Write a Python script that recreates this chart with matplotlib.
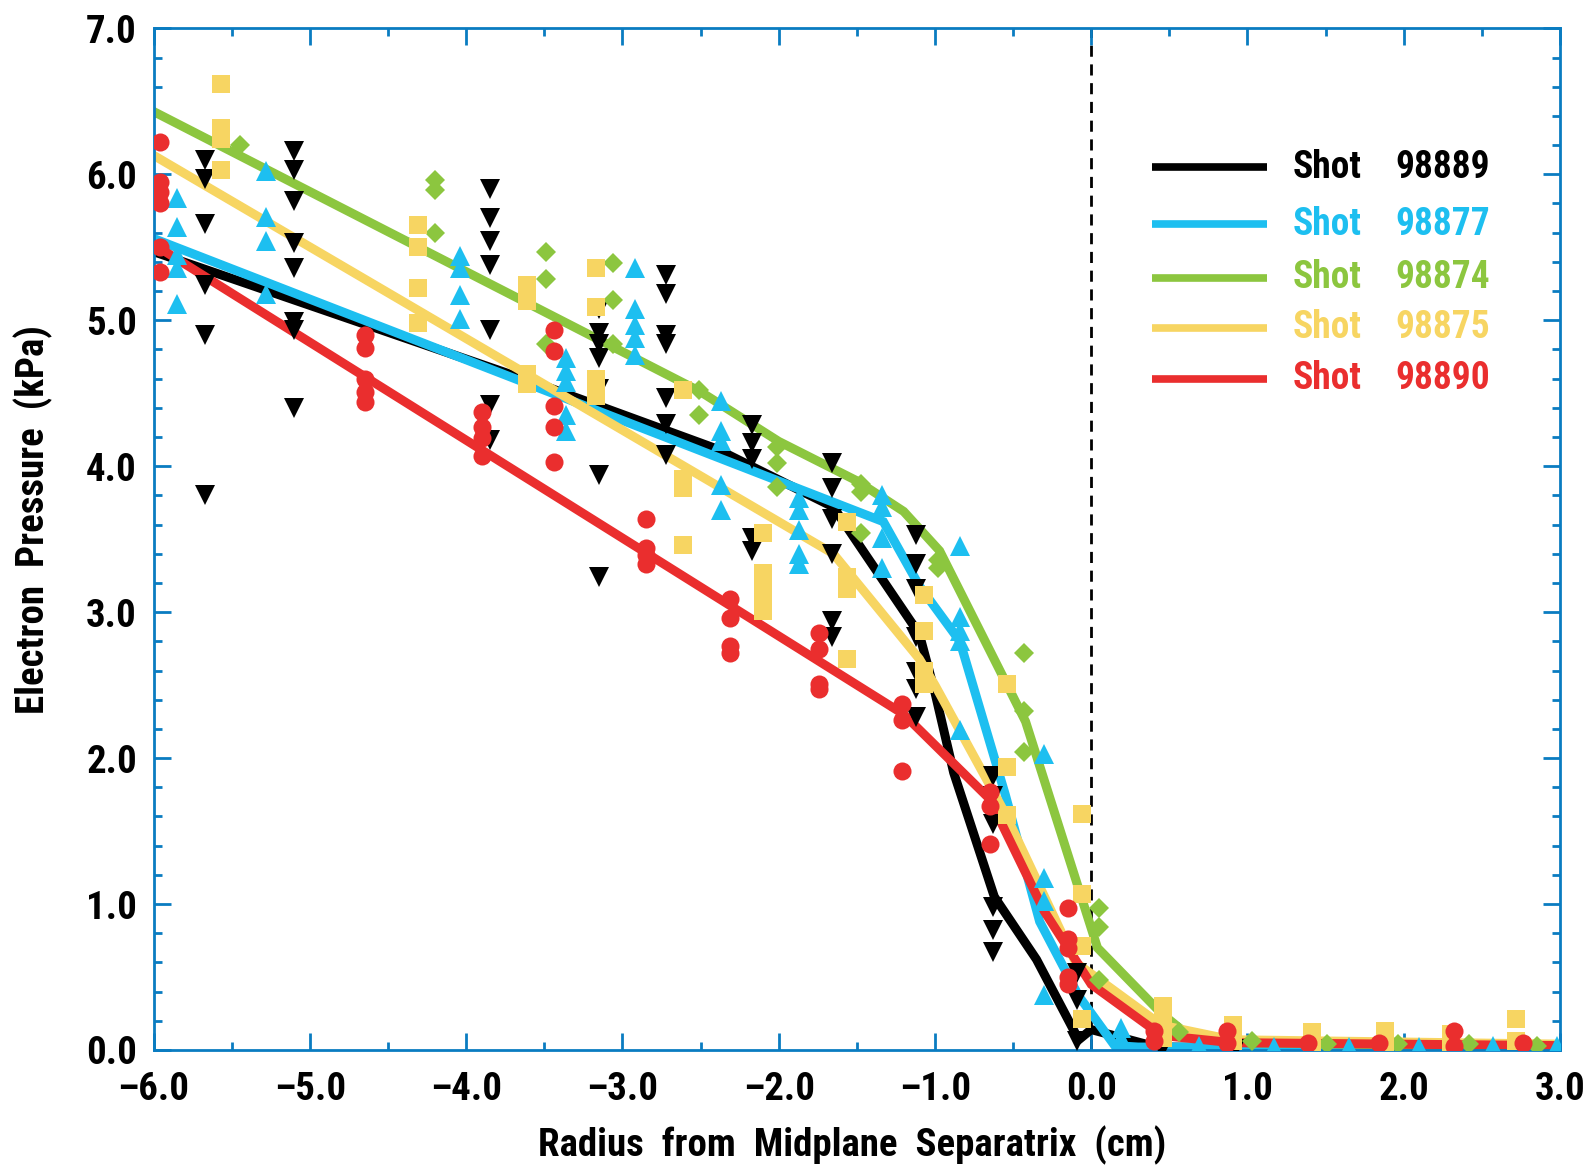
import matplotlib
matplotlib.use("Agg")
import matplotlib.pyplot as plt
from matplotlib import font_manager
from matplotlib.ticker import MultipleLocator, FuncFormatter


def pick_condensed():
    # look for a narrow/condensed sans face; fall back to Liberation Sans
    fonts = font_manager.fontManager.ttflist
    for wanted in ("Liberation Sans Narrow", "Roboto Condensed", "Open Sans Condensed",
                   "Arial Narrow", "Nimbus Sans Narrow"):
        if any(f.name == wanted for f in fonts):
            return wanted, "normal"
    for f in fonts:
        fn = f.fname.lower()
        if "sans" in fn and ("condensed" in fn or "narrow" in fn) and "mono" not in fn:
            return f.name, "condensed"
    return "Liberation Sans", "normal"


FONT, STRETCH = pick_condensed()
plt.rcParams["font.family"] = [FONT, "DejaVu Sans"]
plt.rcParams["font.stretch"] = STRETCH
plt.rcParams["font.weight"] = "bold"
plt.rcParams["lines.scale_dashes"] = False

SHOTS = ["98889", "98877", "98874", "98875", "98890"]
COLORS = ["#000000", "#1DBFF0", "#8CC63F", "#F7D562", "#EA2E2E"]
MARKERS = ["v", "^", "D", "s", "o"]
MSIZES = [15, 15, 10, 13, 13]
AXIS_BLUE = "#0A7CC1"

# fitted profiles (piecewise)
fit_98889_x = [-6.0, -3.5, -2.4, -1.65, -1.1, -1.0, -0.88, -0.62, -0.35, -0.08, 0.0, 0.42, 3.0]
fit_98889_y = [5.47, 4.55, 4.12, 3.72, 2.85, 2.45, 1.90, 1.05, 0.62, 0.07, 0.14, 0.02, 0.01]
fit_98877_x = [-6.0, -1.33, -1.1, -0.84, -0.55, -0.33, -0.08, 0.15, 0.3, 3.0]
fit_98877_y = [5.56, 3.62, 3.18, 2.80, 1.75, 0.88, 0.37, 0.03, 0.02, 0.02]
fit_98874_x = [-6.0, -2.5, -2.0, -1.5, -1.2, -0.97, -0.42, 0.04, 0.45, 0.6, 1.0, 3.0]
fit_98874_y = [6.43, 4.51, 4.17, 3.90, 3.69, 3.42, 2.25, 0.70, 0.25, 0.12, 0.05, 0.02]
fit_98875_x = [-6.0, -1.65, -1.1, -1.0, -0.55, -0.1, 0.45, 0.9, 3.0]
fit_98875_y = [6.13, 3.40, 2.68, 2.50, 1.62, 0.60, 0.17, 0.07, 0.04]
fit_98890_x = [-6.0, -1.2, -0.65, -0.3, 0.0, 0.45, 0.9, 3.0]
fit_98890_y = [5.52, 2.30, 1.72, 0.95, 0.45, 0.10, 0.05, 0.03]

# measured points, grouped by radial position
pts_98889 = {
    -5.67: [6.10, 5.97, 5.66, 5.24, 4.90, 3.80],
    -5.10: [6.16, 6.03, 5.82, 5.53, 5.36, 4.99, 4.93, 4.40],
    -3.85: [5.90, 5.70, 5.54, 5.38, 4.93, 4.42, 4.18],
    -3.15: [5.08, 4.91, 4.84, 4.74, 4.53, 3.94, 3.24],
    -2.72: [5.31, 5.18, 4.90, 4.84, 4.47, 4.29, 4.08],
    -2.17: [4.28, 4.16, 4.05, 3.51, 3.42],
    -1.66: [4.02, 3.85, 3.64, 3.40, 2.94, 2.83],
    -1.12: [3.53, 3.33, 3.16, 2.83, 2.59, 2.47, 2.28],
    -0.63: [1.88, 1.74, 1.55, 0.98, 0.82, 0.67],
    -0.09: [0.53, 0.34, 0.06],
    0.45: [0.01],
    0.92: [0.01],
}
pts_98877 = {
    -5.85: [5.84, 5.64, 5.45, 5.36, 5.11],
    -5.28: [6.02, 5.71, 5.54, 5.18],
    -4.04: [5.44, 5.36, 5.17, 5.01],
    -3.36: [4.74, 4.65, 4.58, 4.35, 4.24],
    -2.92: [5.36, 5.08, 4.97, 4.88, 4.76],
    -2.37: [4.45, 4.24, 4.17, 3.87, 3.70],
    -1.87: [3.78, 3.70, 3.56, 3.40, 3.33],
    -1.34: [3.80, 3.72, 3.51, 3.30],
    -0.84: [3.45, 2.97, 2.87, 2.80, 2.19],
    -0.30: [2.03, 1.18, 1.02, 0.38],
    0.19: [0.15, 0.08],
    0.69: [0.03],
    1.17: [0.02],
    1.65: [0.02],
    2.10: [0.02],
    2.57: [0.03],
    2.98: [0.03],
}
pts_98874 = {
    -5.45: [6.20],
    -4.20: [5.96, 5.89, 5.60],
    -3.49: [5.47, 5.28, 4.84],
    -3.06: [5.39, 5.14, 4.84],
    -2.51: [4.52, 4.35],
    -2.01: [4.13, 4.02, 3.86],
    -1.47: [3.88, 3.82, 3.54],
    -0.98: [3.36, 3.30],
    -0.43: [2.72, 2.32, 2.04],
    0.05: [0.97, 0.84, 0.48],
    0.56: [0.12],
    1.03: [0.06],
    1.51: [0.04],
    1.96: [0.04],
    2.42: [0.04],
    2.85: [0.03],
}
pts_98875 = {
    -5.57: [6.62, 6.32, 6.24, 6.03],
    -4.31: [5.65, 5.50, 5.22, 4.98],
    -3.61: [5.24, 5.13, 4.63, 4.56],
    -3.17: [5.36, 5.09, 4.60, 4.48],
    -2.61: [4.52, 3.91, 3.85, 3.46],
    -2.10: [3.54, 3.27, 3.19, 3.13, 3.01],
    -1.56: [3.62, 3.24, 3.16, 2.68],
    -1.07: [3.12, 2.87, 2.60, 2.51],
    -0.54: [2.51, 1.94, 1.61],
    -0.06: [1.62, 1.07, 0.71, 0.21],
    0.46: [0.30, 0.20, 0.08],
    0.91: [0.17, 0.06],
    1.41: [0.12, 0.04],
    1.88: [0.13, 0.04],
    2.30: [0.11, 0.04],
    2.72: [0.21, 0.06],
}
pts_98890 = {
    -5.96: [6.22, 5.95, 5.88, 5.80, 5.50, 5.33],
    -4.65: [4.90, 4.81, 4.60, 4.51, 4.44],
    -3.90: [4.37, 4.27, 4.19, 4.07],
    -3.44: [4.93, 4.79, 4.41, 4.27, 4.03],
    -2.85: [3.64, 3.44, 3.39, 3.33],
    -2.31: [3.09, 2.96, 2.77, 2.72],
    -1.74: [2.86, 2.75, 2.51, 2.47],
    -1.21: [2.37, 2.26, 1.91],
    -0.65: [1.77, 1.67, 1.41],
    -0.15: [0.97, 0.76, 0.70, 0.50, 0.45],
    0.40: [0.13, 0.06],
    0.87: [0.13, 0.05],
    1.39: [0.05],
    1.84: [0.05],
    2.32: [0.13, 0.03],
    2.76: [0.05],
}

fits = [
    (fit_98889_x, fit_98889_y),
    (fit_98877_x, fit_98877_y),
    (fit_98874_x, fit_98874_y),
    (fit_98875_x, fit_98875_y),
    (fit_98890_x, fit_98890_y),
]
points = [pts_98889, pts_98877, pts_98874, pts_98875, pts_98890]


def flatten(groups):
    xs, ys = [], []
    for r, vals in groups.items():
        for v in vals:
            xs.append(r)
            ys.append(v)
    return xs, ys


fig = plt.figure(figsize=(15.83, 11.66), dpi=100)
ax = fig.add_axes([0.097, 0.0995, 0.8885, 0.8762])

for (fx, fy), c in zip(fits, COLORS):
    ax.plot(fx, fy, color=c, lw=6.5, solid_joinstyle="miter", zorder=2)

for groups, c, m, ms in zip(points, COLORS, MARKERS, MSIZES):
    px, py = flatten(groups)
    ax.plot(px, py, ls="none", marker=m, ms=ms, color=c, mec=c, mew=0, zorder=3)

# separatrix
ax.axvline(0.0, color="black", lw=2, dashes=(8, 5.5), zorder=1)

ax.set_xlim(-6.0, 3.0)
ax.set_ylim(0.0, 7.0)
ax.xaxis.set_major_locator(MultipleLocator(1.0))
ax.xaxis.set_minor_locator(MultipleLocator(0.5))
ax.yaxis.set_major_locator(MultipleLocator(1.0))
ax.yaxis.set_minor_locator(MultipleLocator(0.2))
dash_fmt = FuncFormatter(lambda v, p: f"{v:.1f}".replace("-", "\u2013"))
ax.xaxis.set_major_formatter(dash_fmt)
ax.yaxis.set_major_formatter(dash_fmt)

ax.tick_params(which="both", direction="in", top=True, right=True,
               color=AXIS_BLUE, width=2, labelsize=28)
ax.tick_params(axis="x", pad=15)
ax.tick_params(axis="y", pad=12)
ax.tick_params(which="major", length=12)
ax.tick_params(which="minor", length=6)
for lab in ax.get_xticklabels() + ax.get_yticklabels():
    lab.set_fontweight("bold")
for sp in ax.spines.values():
    sp.set_color(AXIS_BLUE)
    sp.set_linewidth(2)

fig.text(0.538, 0.0086, "Radius  from  Midplane  Separatrix  (cm)", ha="center",
         va="baseline", fontsize=28, fontweight="bold")
fig.text(0.021, 0.554, "Electron  Pressure  (kPa)", rotation=90, ha="center",
         va="center", fontsize=28, fontweight="bold")

# legend drawn by hand
legend_rows = [0.864, 0.808, 0.756, 0.707, 0.657]
for yy, c, shot in zip(legend_rows, COLORS, SHOTS):
    ax.plot([0.710, 0.792], [yy, yy], color=c, lw=5.5, transform=ax.transAxes,
            solid_capstyle="butt", zorder=4)
    ax.text(0.810, yy, "Shot", color=c, fontsize=27, fontweight="bold",
            ha="left", va="center", transform=ax.transAxes)
    ax.text(0.883, yy, shot, color=c, fontsize=27, fontweight="bold",
            ha="left", va="center", transform=ax.transAxes)

fig.savefig("out.png", dpi=100, facecolor="white")
